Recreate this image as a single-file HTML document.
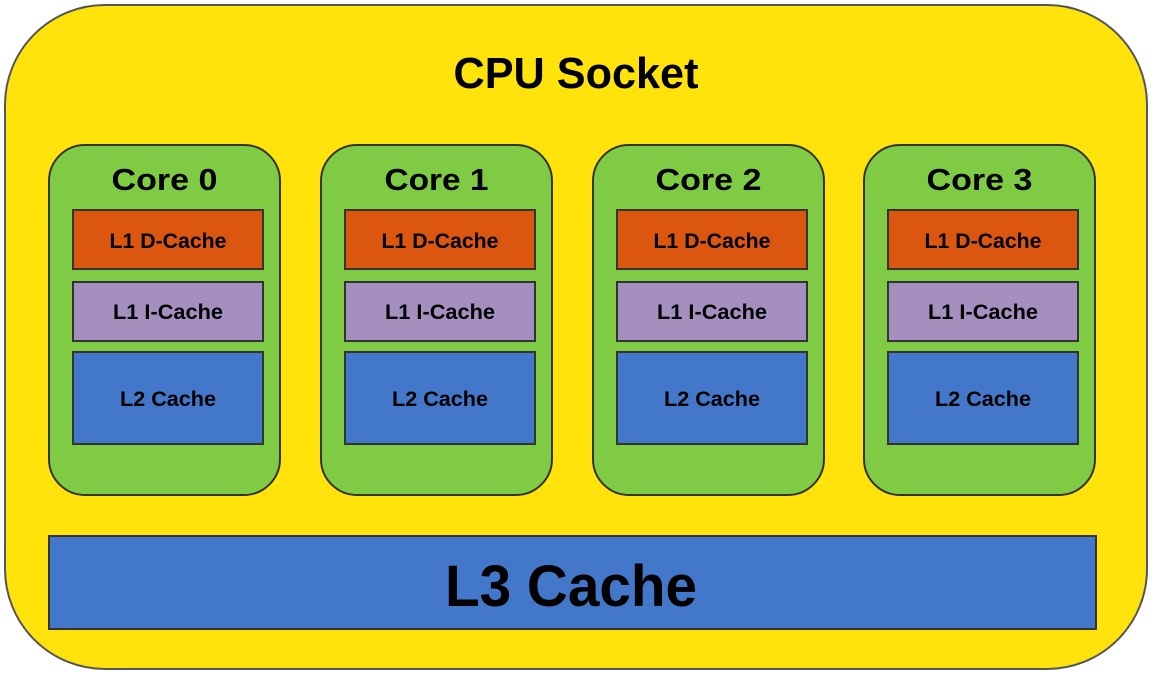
<!DOCTYPE html>
<html><head><meta charset="utf-8"><style>
html,body{margin:0;padding:0;background:#fff;}
svg{display:block;}
text{font-family:"Liberation Sans Narrow","Liberation Sans",sans-serif;font-weight:bold;fill:#000;text-anchor:middle;}
</style></head><body>
<svg width="1152" height="678" viewBox="0 0 1152 678" xmlns="http://www.w3.org/2000/svg">
<rect x="5" y="5" width="1142" height="664" rx="100" ry="100" fill="#FFE30B" stroke="#555" stroke-width="2"/>
<text x="576" y="88" font-size="44" textLength="245" lengthAdjust="spacingAndGlyphs">CPU Socket</text>

<g transform="translate(0,0)">
<rect x="49" y="145" width="231" height="350" rx="36" ry="36" fill="#7FCB43" stroke="#333" stroke-width="2"/>
<text x="164.5" y="190" font-size="31" textLength="106" lengthAdjust="spacingAndGlyphs">Core 0</text>
<rect x="73" y="210" width="190" height="59" fill="#DB560E" stroke="#333" stroke-width="2"/>
<text x="168" y="248" font-size="21" textLength="117" lengthAdjust="spacingAndGlyphs">L1 D-Cache</text>
<rect x="73" y="282" width="190" height="59" fill="#A58FBF" stroke="#333" stroke-width="2"/>
<text x="168" y="319" font-size="21" textLength="110" lengthAdjust="spacingAndGlyphs">L1 I-Cache</text>
<rect x="73" y="352" width="190" height="92" fill="#4377C9" stroke="#333" stroke-width="2"/>
<text x="168" y="406" font-size="21" textLength="96" lengthAdjust="spacingAndGlyphs">L2 Cache</text>
</g>

<g transform="translate(272,0)">
<rect x="49" y="145" width="231" height="350" rx="36" ry="36" fill="#7FCB43" stroke="#333" stroke-width="2"/>
<text x="164.5" y="190" font-size="31" textLength="104" lengthAdjust="spacingAndGlyphs">Core 1</text>
<rect x="73" y="210" width="190" height="59" fill="#DB560E" stroke="#333" stroke-width="2"/>
<text x="168" y="248" font-size="21" textLength="117" lengthAdjust="spacingAndGlyphs">L1 D-Cache</text>
<rect x="73" y="282" width="190" height="59" fill="#A58FBF" stroke="#333" stroke-width="2"/>
<text x="168" y="319" font-size="21" textLength="110" lengthAdjust="spacingAndGlyphs">L1 I-Cache</text>
<rect x="73" y="352" width="190" height="92" fill="#4377C9" stroke="#333" stroke-width="2"/>
<text x="168" y="406" font-size="21" textLength="96" lengthAdjust="spacingAndGlyphs">L2 Cache</text>
</g>

<g transform="translate(544,0)">
<rect x="49" y="145" width="231" height="350" rx="36" ry="36" fill="#7FCB43" stroke="#333" stroke-width="2"/>
<text x="164.5" y="190" font-size="31" textLength="106" lengthAdjust="spacingAndGlyphs">Core 2</text>
<rect x="73" y="210" width="190" height="59" fill="#DB560E" stroke="#333" stroke-width="2"/>
<text x="168" y="248" font-size="21" textLength="117" lengthAdjust="spacingAndGlyphs">L1 D-Cache</text>
<rect x="73" y="282" width="190" height="59" fill="#A58FBF" stroke="#333" stroke-width="2"/>
<text x="168" y="319" font-size="21" textLength="110" lengthAdjust="spacingAndGlyphs">L1 I-Cache</text>
<rect x="73" y="352" width="190" height="92" fill="#4377C9" stroke="#333" stroke-width="2"/>
<text x="168" y="406" font-size="21" textLength="96" lengthAdjust="spacingAndGlyphs">L2 Cache</text>
</g>

<g transform="translate(815,0)">
<rect x="49" y="145" width="231" height="350" rx="36" ry="36" fill="#7FCB43" stroke="#333" stroke-width="2"/>
<text x="164.5" y="190" font-size="31" textLength="106" lengthAdjust="spacingAndGlyphs">Core 3</text>
<rect x="73" y="210" width="190" height="59" fill="#DB560E" stroke="#333" stroke-width="2"/>
<text x="168" y="248" font-size="21" textLength="117" lengthAdjust="spacingAndGlyphs">L1 D-Cache</text>
<rect x="73" y="282" width="190" height="59" fill="#A58FBF" stroke="#333" stroke-width="2"/>
<text x="168" y="319" font-size="21" textLength="110" lengthAdjust="spacingAndGlyphs">L1 I-Cache</text>
<rect x="73" y="352" width="190" height="92" fill="#4377C9" stroke="#333" stroke-width="2"/>
<text x="168" y="406" font-size="21" textLength="96" lengthAdjust="spacingAndGlyphs">L2 Cache</text>
</g>

<rect x="49" y="536" width="1047" height="93" fill="#4377C9" stroke="#333" stroke-width="2"/>
<text x="571" y="606" font-size="58" textLength="252" lengthAdjust="spacingAndGlyphs">L3 Cache</text>
</svg>
</body></html>
